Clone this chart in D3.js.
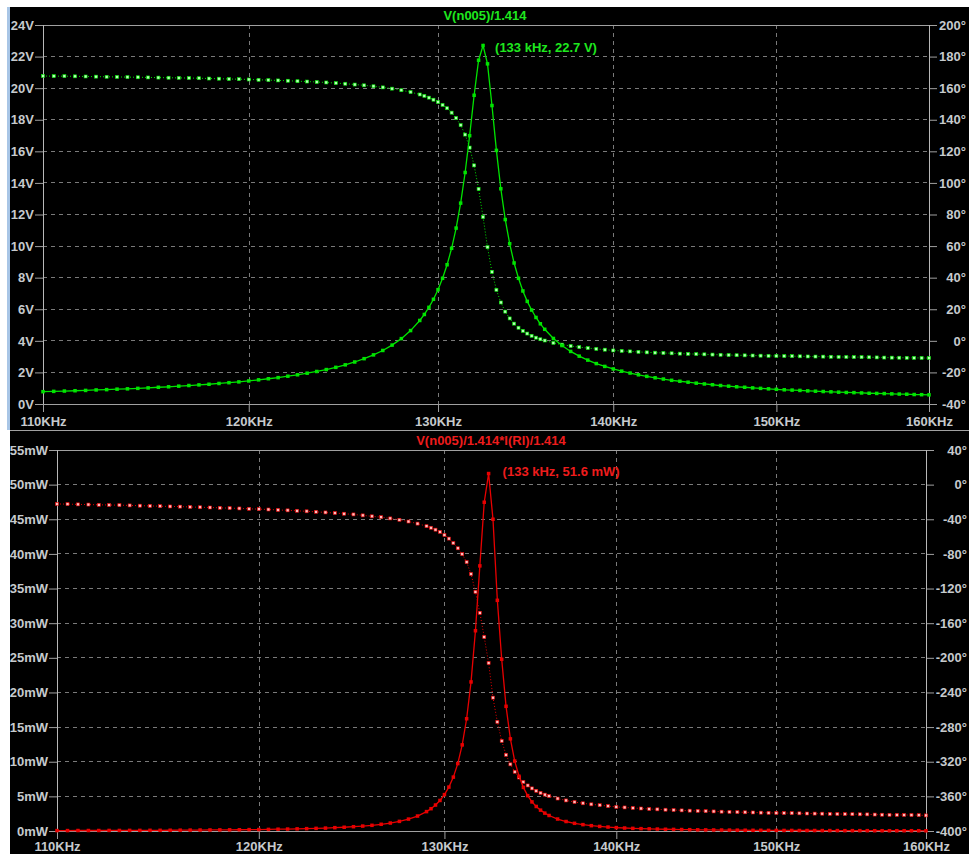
<!DOCTYPE html>
<html><head><meta charset="utf-8">
<script src="https://cdn.jsdelivr.net/npm/d3@7"></script>
<style>
html,body{margin:0;padding:0;background:#fff;}
svg{display:block;}
text{font-family:"Liberation Sans",Arial,sans-serif;font-weight:bold;font-size:13px;}
</style>
</head><body>
<svg id="c" width="969" height="854"></svg>
<script>
// ---- data (frequencies in kHz) ----
const freqKHz = [110,110.5,111,111.5,112,112.5,113,113.5,114,114.5,115,115.5,116,116.5,117,117.5,118,118.5,119,119.5,
120,120.5,121,121.5,122,122.5,123,123.5,124,124.5,125,125.5,126,126.5,127,127.5,128,128.5,129,
129.25,129.5,129.75,130,130.25,130.5,130.75,131,131.25,131.5,131.75,132,132.25,132.5,132.75,133,133.25,133.5,133.75,134,134.25,134.5,134.75,135,135.25,135.5,135.75,136,
136.5,137,137.5,138,138.5,139,139.5,140,140.5,141,141.5,142,142.5,143,143.5,144,144.5,145,145.5,146,146.5,147,147.5,148,148.5,149,149.5,150,
150.5,151,151.5,152,152.5,153,153.5,154,154.5,155,155.5,156,156.5,157,157.5,158,158.5,159,159.5,160];

const topMagV = [0.78,0.80,0.82,0.84,0.86,0.89,0.91,0.94,0.96,0.99,1.02,1.06,1.09,1.13,1.17,1.21,1.25,1.30,1.35,1.40,
1.46,1.53,1.60,1.67,1.76,1.85,1.95,2.06,2.18,2.32,2.48,2.66,2.87,3.11,3.39,3.73,4.14,4.65,5.29,
5.67,6.12,6.63,7.24,7.96,8.82,9.86,11.14,12.72,14.66,16.99,19.55,21.77,22.70,21.54,18.90,16.06,13.63,11.68,10.15,8.93,7.96,7.16,6.50,5.95,5.48,5.08,4.73,
4.15,3.70,3.33,3.03,2.78,2.56,2.38,2.22,2.08,1.96,1.85,1.75,1.66,1.58,1.50,1.44,1.38,1.32,1.27,1.22,1.17,1.13,1.09,1.06,1.02,0.99,0.96,0.93,
0.90,0.88,0.86,0.83,0.81,0.79,0.77,0.75,0.73,0.72,0.70,0.68,0.67,0.66,0.64,0.63,0.62,0.60,0.59,0.58];

const topPhaseDeg = [167.7,167.6,167.6,167.5,167.4,167.3,167.2,167.1,167.0,166.9,166.8,166.7,166.6,166.5,166.4,166.3,166.1,166.0,165.8,165.7,
165.5,165.3,165.1,164.9,164.7,164.4,164.2,163.9,163.6,163.2,162.8,162.3,161.8,161.2,160.5,159.7,158.7,157.5,156.0,
155.1,154.0,152.7,151.2,149.4,147.3,144.5,141.1,136.6,130.6,122.4,111.1,96.2,78.4,59.3,43.7,32.3,24.3,18.5,14.2,10.9,8.3,6.3,4.6,3.2,2.0,1.0,0.2,
-1.3,-2.4,-3.3,-4.0,-4.6,-5.1,-5.6,-6.1,-6.4,-6.7,-7.0,-7.3,-7.5,-7.7,-7.9,-8.1,-8.25,-8.4,-8.55,-8.7,-8.85,-9.0,-9.1,-9.2,-9.3,-9.4,-9.5,-9.6,
-9.65,-9.7,-9.8,-9.9,-9.95,-10.0,-10.1,-10.2,-10.25,-10.3,-10.35,-10.4,-10.5,-10.6,-10.65,-10.7,-10.75,-10.8,-10.85,-10.9];

const botPowerMW = [0.06,0.06,0.07,0.07,0.07,0.08,0.08,0.09,0.09,0.10,0.10,0.11,0.12,0.13,0.14,0.15,0.16,0.17,0.18,0.20,
0.21,0.23,0.26,0.28,0.31,0.34,0.38,0.42,0.48,0.54,0.62,0.71,0.82,0.97,1.15,1.39,1.72,2.16,2.80,
3.22,3.75,4.41,5.25,6.34,7.78,9.73,12.43,16.20,21.52,28.91,38.27,47.46,51.60,45.0,33.3,24.8,18.0,13.3,10.1,7.9,6.3,5.1,4.2,3.54,3.01,2.58,2.24,
1.73,1.37,1.11,0.92,0.77,0.66,0.57,0.49,0.43,0.38,0.34,0.31,0.28,0.25,0.23,0.21,0.19,0.17,0.16,0.15,0.14,0.13,0.12,0.11,0.10,0.10,0.09,0.09,
0.08,0.08,0.07,0.07,0.07,0.06,0.06,0.06,0.05,0.05,0.05,0.05,0.04,0.04,0.04,0.04,0.04,0.04,0.04,0.03];

const botPhaseDeg = [-22.3,-22.5,-22.8,-23.0,-23.3,-23.5,-23.7,-24.0,-24.3,-24.6,-24.9,-25.2,-25.4,-25.8,-26.1,-26.4,-26.8,-27.1,-27.5,-27.9,
-28.3,-28.7,-29.2,-29.7,-30.2,-30.8,-31.4,-32.1,-32.8,-33.6,-34.4,-35.5,-36.6,-37.6,-39.0,-40.6,-42.6,-45.0,-48.0,
-49.8,-52.0,-54.6,-58.2,-62.3,-67.5,-73.5,-80.3,-89.5,-103.2,-123.8,-148.0,-176.0,-206.0,-246.0,-274.0,-296.0,-312.0,-323.0,-331.6,-338.2,-343.4,-347.4,-350.8,-353.6,-356.0,-358.0,-359.6,
-362.5,-364.7,-366.5,-368.0,-369.2,-370.2,-371.2,-372.2,-372.8,-373.4,-374.0,-374.6,-375.0,-375.4,-375.8,-376.2,-376.5,-376.8,-377.1,-377.4,-377.7,-378.0,-378.2,-378.4,-378.6,-378.8,-379.0,-379.2,
-379.3,-379.4,-379.6,-379.8,-379.9,-380.0,-380.2,-380.4,-380.5,-380.6,-380.7,-380.8,-381.0,-381.2,-381.3,-381.4,-381.5,-381.6,-381.7,-382.0];

const xTicksKHz = [110,120,130,140,150,160];
const topVTicks = [0,2,4,6,8,10,12,14,16,18,20,22,24];
const topDegTicks = [-40,-20,0,20,40,60,80,100,120,140,160,180,200];
const botMWTicks = [0,5,10,15,20,25,30,35,40,45,50,55];
const botDegTicks = [-400,-360,-320,-280,-240,-200,-160,-120,-80,-40,0,40];

const titles = ["V(n005)/1.414", "V(n005)/1.414*I(Rl)/1.414"];
const peakFreqKHz = [132.5, 132.5];
const peakValues = [22.7, 51.6];
const peakLabels = ["(133 kHz, 22.7 V)", "(133 kHz, 51.6 mW)"];

// ---- drawing ----
const svg = d3.select("#c");
svg.append("rect").attr("x",0).attr("y",0).attr("width",969).attr("height",854).attr("fill","#fff");
svg.append("rect").attr("x",10).attr("y",7).attr("width",959).attr("height",424).attr("fill","#000");
svg.append("rect").attr("x",10).attr("y",430).attr("width",959).attr("height",424).attr("fill","#000");
svg.append("rect").attr("x",7).attr("y",7).attr("width",3).attr("height",423).attr("fill","#a9c6e6");

const AX = "#a0a0a0", GRID = "#7a7a7a", TXT = "#c6cacd";

function panel(cfg){
  const g = svg.append("g");
  const x = d3.scaleLog().domain([110,160]).range([cfg.x0,cfg.x1]);
  const yL = d3.scaleLinear().domain(cfg.yLDom).range([cfg.y1,cfg.y0]);
  const yR = d3.scaleLinear().domain(cfg.yRDom).range([cfg.y1,cfg.y0]);

  // grid
  g.append("g").selectAll("line").data(cfg.yLTicks.slice(1,-1)).join("line")
    .attr("x1",cfg.x0).attr("x2",cfg.x1).attr("y1",d=>yL(d)).attr("y2",d=>yL(d))
    .attr("stroke",GRID).attr("stroke-dasharray","4,4").attr("shape-rendering","crispEdges");
  g.append("g").selectAll("line").data(xTicksKHz.slice(1,-1)).join("line")
    .attr("x1",d=>Math.round(x(d))+0.5).attr("x2",d=>Math.round(x(d))+0.5).attr("y1",cfg.y0).attr("y2",cfg.y1)
    .attr("stroke",GRID).attr("stroke-dasharray","4,4");

  // axes
  const ax = g.append("g").attr("transform",`translate(0,${cfg.y1})`)
    .call(d3.axisBottom(x).tickValues(xTicksKHz).tickFormat(d=>d+"KHz").tickSize(8).tickSizeOuter(0).tickPadding(cfg.xPad));
  const al = g.append("g").attr("transform",`translate(${cfg.x0},0)`)
    .call(d3.axisLeft(yL).tickValues(cfg.yLTicks).tickFormat(cfg.fmtL).tickSize(8).tickSizeOuter(0).tickPadding(1));
  const ar = g.append("g").attr("transform",`translate(${cfg.x1},0)`)
    .call(d3.axisRight(yR).tickValues(cfg.yRTicks).tickFormat(d=>d+"°").tickSize(8).tickSizeOuter(0).tickPadding(2));
  ar.selectAll("text").attr("text-anchor","end").attr("x",cfg.rEdge-cfg.x1);
  [ax,al,ar].forEach(a=>{
    a.select(".domain").remove();
    a.selectAll("line").attr("stroke",AX);
    a.selectAll("text").attr("fill",TXT).attr("font-size",13).attr("font-family","'Liberation Sans',Arial,sans-serif").attr("font-weight","bold");
  });
  // frame
  g.append("line").attr("x1",cfg.x0).attr("x2",cfg.x1).attr("y1",cfg.y0+0.5).attr("y2",cfg.y0+0.5).attr("stroke",AX);
  g.append("line").attr("x1",cfg.x0).attr("x2",cfg.x1).attr("y1",cfg.y1+0.5).attr("y2",cfg.y1+0.5).attr("stroke",AX);
  g.append("line").attr("x1",cfg.x0+0.5).attr("x2",cfg.x0+0.5).attr("y1",cfg.y0).attr("y2",cfg.y1).attr("stroke","#b8b8b8");
  g.append("line").attr("x1",cfg.x1+0.5).attr("x2",cfg.x1+0.5).attr("y1",cfg.y0).attr("y2",cfg.y1).attr("stroke","#b8b8b8");

  // title
  g.append("text").attr("x",cfg.titleX).attr("y",cfg.titleY).attr("text-anchor","middle")
    .attr("fill",cfg.text).text(cfg.title);

  const pts = freqKHz.map((f,i)=>({f, m:cfg.mag[i], p:cfg.phase[i]}));
  // phase (dotted)
  g.append("path").datum(pts).attr("fill","none").attr("stroke",cfg.line).attr("stroke-width",1)
    .attr("stroke-dasharray","1,2")
    .attr("d",d3.line().x(d=>x(d.f)).y(d=>yR(d.p)));
  g.append("g").selectAll("rect").data(pts).join("rect")
    .attr("x",d=>x(d.f)-1.5).attr("y",d=>yR(d.p)-1.5).attr("width",3).attr("height",3)
    .attr("fill",cfg.light).attr("stroke",cfg.line).attr("stroke-width",0.6);
  // magnitude (solid)
  g.append("path").datum(pts).attr("fill","none").attr("stroke",cfg.line).attr("stroke-width",1.3)
    .attr("d",d3.line().x(d=>x(d.f)).y(d=>yL(d.m)));
  g.append("g").selectAll("rect").data(pts).join("rect")
    .attr("x",d=>x(d.f)-1.75).attr("y",d=>yL(d.m)-1.75).attr("width",3.5).attr("height",3.5)
    .attr("fill",cfg.line);
  // peak label
  g.append("text").attr("x",x(cfg.peakF)+cfg.labDx).attr("y",yL(cfg.peakV)+cfg.labDy)
    .attr("fill",cfg.text).text(cfg.peakLabel);
}

panel({x0:43,x1:929,y0:25,y1:404,yLDom:[0,24],yRDom:[-40,200],yLTicks:topVTicks,yRTicks:topDegTicks,
  fmtL:d=>d+"V",xPad:5,rEdge:966,title:titles[0],titleX:485,titleY:20,
  mag:topMagV,phase:topPhaseDeg,line:"#00e400",light:"#b8ffb8",text:"#1ee81e",
  peakF:peakFreqKHz[0],peakV:peakValues[0],peakLabel:peakLabels[0],labDx:12,labDy:6});

panel({x0:57,x1:926,y0:450,y1:831,yLDom:[0,55],yRDom:[-400,40],yLTicks:botMWTicks,yRTicks:botDegTicks,
  fmtL:d=>d+"mW",xPad:3,rEdge:967,title:titles[1],titleX:491,titleY:445,
  mag:botPowerMW,phase:botPhaseDeg,line:"#e80000",light:"#ffc0c0",text:"#ee1c1c",
  peakF:peakFreqKHz[1],peakV:peakValues[1],peakLabel:peakLabels[1],labDx:14,labDy:2});

// separator and left clip
svg.append("line").attr("x1",10).attr("x2",969).attr("y1",430.5).attr("y2",430.5).attr("stroke",AX);
svg.append("rect").attr("x",0).attr("y",430).attr("width",10).attr("height",424).attr("fill","#fff");
svg.append("rect").attr("x",0).attr("y",0).attr("width",969).attr("height",7).attr("fill","#fff");
</script>
</body></html>
